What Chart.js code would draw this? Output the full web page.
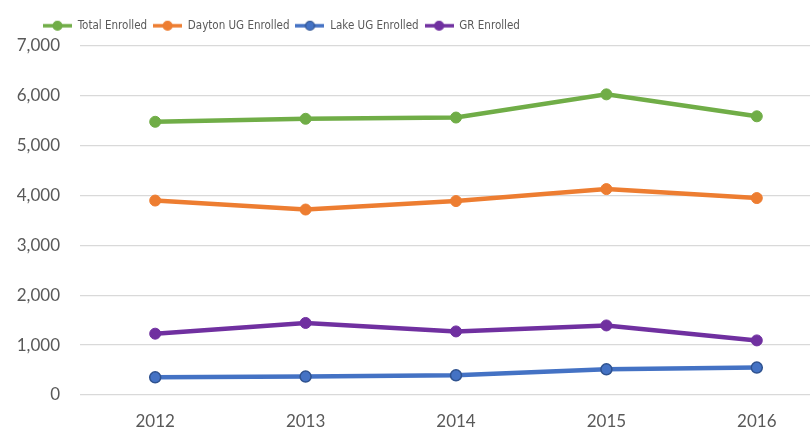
<!DOCTYPE html>
<html>
<head>
<meta charset="utf-8">
<script src="https://cdn.jsdelivr.net/npm/chart.js@4/dist/chart.umd.min.js"></script>
<style>
    html, body { margin: 0; padding: 0; background: #ffffff; overflow: hidden; }
    #wrap { position: relative; width: 840px; height: 433px; }
</style>
</head>
<body>
<div id="wrap"><canvas id="chart"></canvas></div>
<script>
const years = ['2012', '2013', '2014', '2015', '2016'];
const totalEnrolled = [5480, 5540, 5565, 6030, 5590];
const daytonUG = [3900, 3720, 3890, 4130, 3950];
const lakeUG = [355, 370, 395, 515, 550];
const grEnrolled = [1230, 1445, 1275, 1395, 1095];
const yTicks = [0, 1000, 2000, 3000, 4000, 5000, 6000, 7000];

const seriesNames = ['Total Enrolled', 'Dayton UG Enrolled', 'Lake UG Enrolled', 'GR Enrolled'];
const seriesColors = ['#70ad47', '#ed7d31', '#4472c4', '#7030a0'];
const pointBorders = ['#70ad47', '#ed7d31', '#2f528f', '#7030a0'];

// little line + dot icon for the legend, Excel style
function makeIcon(color, border) {
    const c = document.createElement('canvas');
    c.width = 29;
    c.height = 12;
    const g = c.getContext('2d');
    g.strokeStyle = color;
    g.lineWidth = 3.5;
    g.beginPath();
    g.moveTo(0, 6);
    g.lineTo(29, 6);
    g.stroke();
    g.beginPath();
    g.arc(14.5, 6, 4.5, 0, Math.PI * 2);
    g.fillStyle = color;
    g.fill();
    g.lineWidth = 1.2;
    g.strokeStyle = border;
    g.stroke();
    return c;
}
const icons = seriesColors.map((col, i) => makeIcon(col, pointBorders[i]));

function makeSet(i, values) {
    return {
        label: seriesNames[i],
        data: values,
        borderColor: seriesColors[i],
        backgroundColor: seriesColors[i],
        borderWidth: 4.5,
        pointRadius: 5.5,
        pointBorderColor: pointBorders[i],
        pointBorderWidth: i === 2 ? 1.5 : 1,
        tension: 0
    };
}

// legend: fixed height + shifted left like the original
const legendTweak = {
    id: 'legendTweak',
    beforeLayout(chart) {
        const lg = chart.legend;
        if (lg && !lg._tweaked) {
            const fit = lg.fit.bind(lg);
            lg.fit = function () {
                fit();
                this.height = 32;
            };
            lg._tweaked = true;
        }
    },
    afterLayout(chart) {
        chart.legend.left = 37;
    }
};

const ctx = document.getElementById('chart').getContext('2d');
const enrollChart = new Chart(ctx, {
    type: 'line',
    data: {
        labels: years,
        datasets: [
            makeSet(0, totalEnrolled),
            makeSet(1, daytonUG),
            makeSet(2, lakeUG),
            makeSet(3, grEnrolled)
        ]
    },
    options: {
        responsive: true,
        maintainAspectRatio: false,
        animation: false,
        layout: { padding: { left: 0, right: 8, top: 14, bottom: 2 } },
        plugins: {
            legend: {
                position: 'top',
                align: 'start',
                labels: {
                    usePointStyle: true,
                    pointStyleWidth: 29,
                    padding: 6,
                    color: '#595959',
                    font: { family: "'Liberation Sans Narrow', 'DejaVu Sans Condensed', Lato", size: 11.5 },
                    generateLabels(chart) {
                        return chart.data.datasets.map((ds, i) => ({
                            text: ds.label,
                            pointStyle: icons[i],
                            fontColor: '#595959',
                            datasetIndex: i,
                            lineWidth: 0,
                            hidden: false
                        }));
                    }
                }
            },
            tooltip: { enabled: false }
        },
        scales: {
            x: {
                offset: true,
                grid: { display: false, drawTicks: false },
                border: { display: false },
                afterFit(scale) {
                    scale.height = 36;
                },
                ticks: {
                    color: '#595959',
                    font: { family: 'Lato', size: 17 },
                    padding: 16
                }
            },
            y: {
                min: 0,
                max: 7000,
                afterBuildTicks(scale) {
                    scale.ticks = yTicks.map(v => ({ value: v }));
                },
                afterFit(scale) {
                    scale.width = 80;
                },
                grid: { color: '#d9d9d9', lineWidth: 1.3, drawTicks: false },
                border: { display: false },
                ticks: {
                    color: '#595959',
                    font: { family: 'Lato', size: 17 },
                    padding: 20,
                    callback: v => v.toLocaleString('en-US')
                }
            }
        }
    },
    plugins: [legendTweak]
});
</script>
</body>
</html>
